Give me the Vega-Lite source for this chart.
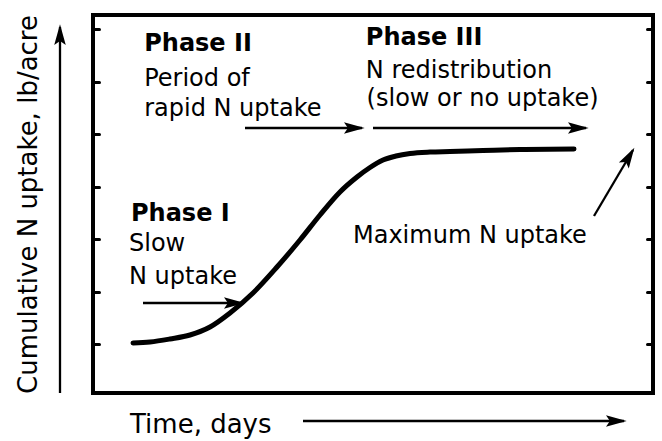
{
  "$schema": "https://vega.github.io/schema/vega-lite/v6.json",
  "width": 560,
  "height": 378,
  "autosize": {"type": "none"},
  "padding": {"left": 93, "top": 15, "right": 9, "bottom": 48},
  "background": "white",
  "config": {
    "view": {"stroke": "black", "strokeWidth": 4},
    "font": "DejaVu Sans",
    "axis": {"grid": false, "labels": false, "domain": false, "tickColor": "black", "tickWidth": 3, "tickSize": -6, "tickCap": "round"}
  },
  "datasets": {
    "curve": [
      {"x": 0.5, "y": 1.022},
      {"x": 0.7125, "y": 1.041},
      {"x": 0.9625, "y": 1.099},
      {"x": 1.2125, "y": 1.175},
      {"x": 1.4625, "y": 1.327},
      {"x": 1.7125, "y": 1.594},
      {"x": 2.0, "y": 1.975},
      {"x": 2.3, "y": 2.47},
      {"x": 2.5875, "y": 2.984},
      {"x": 2.8375, "y": 3.46},
      {"x": 3.0875, "y": 3.899},
      {"x": 3.3, "y": 4.184},
      {"x": 3.4625, "y": 4.365},
      {"x": 3.625, "y": 4.508},
      {"x": 3.7875, "y": 4.584},
      {"x": 3.9625, "y": 4.632},
      {"x": 4.2125, "y": 4.66},
      {"x": 4.4625, "y": 4.67},
      {"x": 4.875, "y": 4.689},
      {"x": 5.3375, "y": 4.708},
      {"x": 6.0125, "y": 4.718}
    ],
    "arrows": [
      {"name": "phase1", "dir": "right", "x": 0.625, "y": 1.784, "x2": 1.8625, "y2": 1.784},
      {"name": "phase2", "dir": "right", "x": 1.9, "y": 5.118, "x2": 3.3625, "y2": 5.118},
      {"name": "phase3", "dir": "right", "x": 3.5, "y": 5.118, "x2": 6.1625, "y2": 5.118},
      {"name": "max", "dir": "diag", "x": 6.2625, "y": 3.441, "x2": 6.75, "y2": 4.699},
      {"name": "time", "dir": "right", "x": 2.625, "y": -0.463, "x2": 6.6375, "y2": -0.463},
      {"name": "uptake", "dir": "up", "x": -0.4125, "y": 0.07, "x2": -0.4125, "y2": 7.041}
    ],
    "notes": [
      {"kind": "head", "label": "Phase I", "x": 0.475, "y": 3.346},
      {"kind": "body", "label": "Slow", "x": 0.45, "y": 2.775},
      {"kind": "body", "label": "N uptake", "x": 0.45, "y": 2.146},
      {"kind": "head", "label": "Phase II", "x": 0.64, "y": 6.584},
      {"kind": "body", "label": "Period of", "x": 0.64, "y": 5.918},
      {"kind": "body", "label": "rapid N uptake", "x": 0.64, "y": 5.346},
      {"kind": "head", "label": "Phase III", "x": 3.41, "y": 6.699},
      {"kind": "body", "label": "N redistribution", "x": 3.41, "y": 6.07},
      {"kind": "body", "label": "(slow or no uptake)", "x": 3.42, "y": 5.537},
      {"kind": "body", "label": "Maximum N uptake", "x": 3.25, "y": 2.927},
      {"kind": "axis", "label": "Time, days", "x": 0.4625, "y": -0.692}
    ]
  },
  "encoding": {
    "x": {
      "field": "x", "type": "quantitative",
      "scale": {"domain": [0, 7], "nice": false, "zero": false},
      "axis": null
    },
    "y": {
      "field": "y", "type": "quantitative",
      "scale": {"domain": [0.07, 7.27], "nice": false, "zero": false},
      "axis": null
    }
  },
  "layer": [
    {
      "data": {"name": "arrows"},
      "mark": {"type": "rule", "color": "black", "strokeWidth": 2.3},
      "encoding": {
        "y": {"field": "y", "type": "quantitative", "scale": {"domain": [0.07, 7.27], "nice": false, "zero": false},
          "axis": {"orient": "right", "values": [1, 2, 3, 4, 5, 6, 7], "title": null}},
        "x2": {"field": "x2"},
        "y2": {"field": "y2"}
      }
    },
    {
      "data": {"name": "arrows"},
      "transform": [{"filter": "datum.dir == 'right'"}],
      "mark": {"type": "point", "shape": "M0.15,0L-1,-0.32L-0.78,0L-1,0.32Z", "filled": true, "size": 1300, "color": "black", "opacity": 1, "strokeWidth": 0, "angle": 0},
      "encoding": {
        "x": {"field": "x2", "type": "quantitative", "scale": {"domain": [0, 7], "nice": false, "zero": false}, "axis": null},
        "y": {"field": "y2", "type": "quantitative", "scale": {"domain": [0.07, 7.27], "nice": false, "zero": false}, "axis": null}
      }
    },
    {
      "data": {"name": "arrows"},
      "transform": [{"filter": "datum.dir == 'up'"}],
      "mark": {"type": "point", "shape": "M0.15,0L-1,-0.32L-0.78,0L-1,0.32Z", "filled": true, "size": 1300, "color": "black", "opacity": 1, "strokeWidth": 0, "angle": 270},
      "encoding": {
        "x": {"field": "x2", "type": "quantitative", "scale": {"domain": [0, 7], "nice": false, "zero": false}, "axis": null},
        "y": {"field": "y2", "type": "quantitative", "scale": {"domain": [0.07, 7.27], "nice": false, "zero": false}, "axis": null}
      }
    },
    {
      "data": {"name": "arrows"},
      "transform": [{"filter": "datum.dir == 'diag'"}],
      "mark": {"type": "point", "shape": "M0.15,0L-1,-0.32L-0.78,0L-1,0.32Z", "filled": true, "size": 1300, "color": "black", "opacity": 1, "strokeWidth": 0, "angle": 300.6},
      "encoding": {
        "x": {"field": "x2", "type": "quantitative", "scale": {"domain": [0, 7], "nice": false, "zero": false}, "axis": null},
        "y": {"field": "y2", "type": "quantitative", "scale": {"domain": [0.07, 7.27], "nice": false, "zero": false}, "axis": null}
      }
    },
    {
      "data": {"name": "curve"},
      "mark": {"type": "line", "color": "black", "strokeWidth": 5, "interpolate": "monotone", "strokeCap": "round"},
      "encoding": {
        "x": {
          "field": "x", "type": "quantitative",
          "scale": {"domain": [0, 7], "nice": false, "zero": false},
          "axis": {"orient": "bottom", "values": [1, 2, 3, 4, 5, 6], "title": null}
        },
        "y": {"field": "y", "type": "quantitative", "scale": {"domain": [0.07, 7.27], "nice": false, "zero": false},
          "axis": {"orient": "left", "values": [1, 2, 3, 4, 5, 6, 7], "title": "Cumulative N uptake, lb/acre", "titleFont": "DejaVu Sans", "titleFontSize": 26, "titleFontWeight": "normal", "titleColor": "black", "titleAngle": -90, "titleX": -57, "titleY": 189, "titleAlign": "center", "titleBaseline": "alphabetic"}}
      }
    },
    {
      "data": {"name": "notes"},
      "transform": [{"filter": "datum.kind == 'body'"}],
      "mark": {"type": "text", "align": "left", "baseline": "alphabetic", "font": "DejaVu Sans", "fontSize": 24, "fontWeight": "normal", "color": "black"},
      "encoding": {"text": {"field": "label"}}
    },
    {
      "data": {"name": "notes"},
      "transform": [{"filter": "datum.kind == 'head'"}],
      "mark": {"type": "text", "align": "left", "baseline": "alphabetic", "font": "DejaVu Sans", "fontSize": 24, "fontWeight": "bold", "color": "black"},
      "encoding": {"text": {"field": "label"}}
    },
    {
      "data": {"name": "notes"},
      "transform": [{"filter": "datum.kind == 'axis'"}],
      "mark": {"type": "text", "align": "left", "baseline": "alphabetic", "font": "DejaVu Sans", "fontSize": 26, "fontWeight": "normal", "color": "black"},
      "encoding": {"text": {"field": "label"}}
    }
  ],
  "resolve": {"axis": {"y": "independent"}}
}
